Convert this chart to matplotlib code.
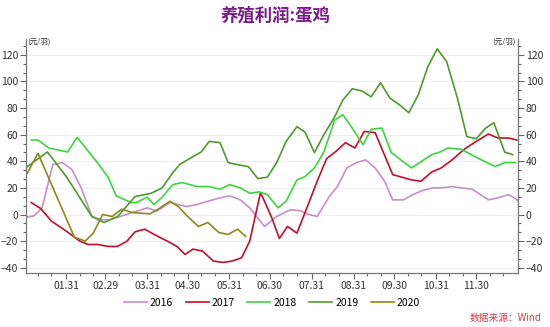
import matplotlib
matplotlib.use("Agg")
import matplotlib.pyplot as plt
import matplotlib.dates as mdates
from matplotlib.ticker import MultipleLocator
import pandas as pd

plt.rcParams['font.family'] = ['Noto Sans CJK SC', 'DejaVu Sans']

# 蛋鸡养殖利润（元/羽），日期统一放在 2016 年的日历轴上
d2016 = ["01-01", "01-07", "01-13", "01-21", "01-28", "02-04", "02-11", "02-19", "02-26",
         "03-03", "03-11", "03-20", "03-28", "03-31", "04-07", "04-17", "04-29", "05-07",
         "05-15", "05-24", "05-31", "06-08", "06-15", "06-26", "07-05", "07-15", "07-22",
         "07-29", "08-04", "08-13", "08-19", "08-26", "09-02", "09-09", "09-16", "09-23",
         "09-29", "10-07", "10-14", "10-21", "10-29", "11-04", "11-12", "11-19", "11-27",
         "12-03", "12-09", "12-16", "12-24", "12-31"]
v2016 = [-2, -1, 5, 37.5, 39, 34, 20, -1.5, -4,
         -4, -1.5, 1.5, 4, 5, 2.5, 9, 6, 7.5,
         10, 12.5, 14, 11, 5, -9, -1.5, 3.5, 3,
         0, -1.5, 13.5, 21, 35, 39, 41, 35, 25,
         11, 11, 15, 18, 20, 20, 21, 20, 19,
         15, 11, 12.5, 15, 10.5]

d2017 = ["01-05", "01-12", "01-20", "01-31", "02-10", "02-16", "02-23", "03-02", "03-09",
         "03-16", "03-22", "03-29", "04-08", "04-15", "04-22", "04-28", "05-04", "05-11",
         "05-19", "05-26", "06-02", "06-09", "06-15", "06-23", "07-01", "07-07", "07-13",
         "07-20", "07-27", "08-04", "08-11", "08-18", "08-25", "09-01", "09-08", "09-16",
         "09-29", "10-06", "10-13", "10-20", "10-28", "11-04", "11-12", "11-21", "11-30",
         "12-09", "12-16", "12-24", "12-30"]
v2017 = [9, 4.5, -5, -12.5, -20, -22.5, -22.5, -24, -24,
         -20, -13, -11, -16.5, -20, -24, -30, -26, -27.5,
         -35, -36, -35, -32.5, -20, 16.5, -1.5, -18, -9,
         -14, 4, 25, 42, 47.5, 54, 50, 62.5, 61.5,
         30, 28, 26, 25, 32, 35, 41, 49, 55,
         60.5, 57.5, 57.5, 56]

d2018 = ["01-05", "01-10", "01-18", "02-01", "02-08", "02-23", "03-02", "03-08", "03-19",
         "03-23", "03-31", "04-05", "04-11", "04-19", "04-26", "05-07", "05-16", "05-24",
         "05-31", "06-08", "06-15", "06-22", "06-28", "07-06", "07-12", "07-20", "07-26",
         "08-02", "08-09", "08-17", "08-23", "08-30", "09-07", "09-13", "09-21", "09-28",
         "10-13", "10-19", "10-28", "11-03", "11-09", "11-19", "11-30", "12-08", "12-14",
         "12-21", "12-29"]
v2018 = [56, 56, 50, 47, 58, 39, 28, 14, 9,
         9, 13, 7.5, 13, 22.5, 24, 21, 21, 19,
         22.5, 20, 16, 17, 15, 5, 10, 26, 28.5,
         35, 47, 71, 75, 65, 52.5, 64, 65, 46.5,
         35, 39, 45, 47, 50, 49, 43, 39, 36,
         39, 39]

d2019 = ["01-02", "01-17", "01-31", "02-19", "02-28", "03-09", "03-22", "04-03", "04-11",
         "04-19", "04-24", "05-03", "05-10", "05-16", "05-24", "05-30", "06-06", "06-14",
         "06-21", "06-28", "07-05", "07-12", "07-20", "07-26", "08-02", "08-09", "08-17",
         "08-23", "08-30", "09-06", "09-13", "09-20", "09-27", "10-04", "10-11", "10-18",
         "10-25", "11-01", "11-08", "11-16", "11-23", "11-30", "12-07", "12-13", "12-21",
         "12-27"]
v2019 = [36, 47, 28.5, -1.5, -6, -1.5, 13.5, 16, 20,
         31.5, 37.5, 43, 47, 55, 54, 39, 37.5, 36,
         27, 28, 39, 55, 66, 62, 46.5, 60, 73.5,
         86, 94.5, 93, 88.5, 99, 87.5, 82.5, 76.5, 90,
         111, 124.5, 115, 87.5, 58.5, 57, 65, 69, 47,
         45]

d2020 = ["01-02", "01-10", "02-06", "02-14", "02-20", "02-27", "03-05", "03-12", "03-20",
         "04-02", "04-08", "04-17", "04-23", "04-30", "05-08", "05-15", "05-23", "05-30",
         "06-06", "06-12"]
v2020 = [31, 46, -17, -20, -14, 0, -1.5, 4, 1.5,
         0.5, 4, 10, 6, -1.5, -9, -6, -13.5, -15,
         -11, -16.5]

series = [
    ("2016", d2016, v2016, "#c68fc6"),
    ("2017", d2017, v2017, "#c0102a"),
    ("2018", d2018, v2018, "#3cd63c"),
    ("2019", d2019, v2019, "#4f9a2c"),
    ("2020", d2020, v2020, "#8a8a1a"),
]

month_ends = ["01-31", "02-29", "03-31", "04-30", "05-31", "06-30",
              "07-31", "08-31", "09-30", "10-31", "11-30"]


def to_dates(md):
    return pd.to_datetime(["2016-" + s for s in md])


fig = plt.figure(figsize=(5.5, 3.27), dpi=100)
ax = fig.add_axes([0.047, 0.165, 0.895, 0.716])

for name, dates, vals, color in series:
    ax.plot(to_dates(dates), vals, color=color, lw=1.2, label=name)

ax.set_xlim(pd.Timestamp("2016-01-01"), pd.Timestamp("2016-12-31"))
ax.set_ylim(-44, 132)

# 横轴：月末主刻度，约每 10 天一个次刻度
ax.set_xticks(to_dates(month_ends))
ax.set_xticklabels([s.replace("-", ".") for s in month_ends])
ax.xaxis.set_minor_locator(mdates.DayLocator(bymonthday=[10, 20]))

ax.yaxis.set_major_locator(MultipleLocator(20))
ax.yaxis.set_minor_locator(MultipleLocator(20 / 3))
ax.tick_params(axis='y', which='both', left=True, right=True,
               labelleft=True, labelright=True, direction='out')
ax.tick_params(axis='both', which='major', length=4, width=0.8,
               color='#666666', labelsize=7.5, labelcolor='#333333', pad=1.5)
ax.tick_params(axis='both', which='minor', length=2.5, width=0.8, color='#666666')

ax.grid(axis='y', which='major', color='#eeeeee', lw=0.8)
ax.set_axisbelow(True)
for side in ['left', 'right', 'bottom']:
    ax.spines[side].set_color('#777777')
    ax.spines[side].set_linewidth(0.9)
ax.spines['top'].set_visible(False)

fig.text(0.05, 0.874, "(元/羽)", fontsize=5.5, color='#333333', ha='left', va='center')
fig.text(0.938, 0.874, "(元/羽)", fontsize=5.5, color='#333333', ha='right', va='center')

fig.text(0.5, 0.952, "养殖利润:蛋鸡", fontsize=12.5, fontweight='bold',
         color='#7b1a8c', ha='center', va='center')

ax.legend(loc='upper center', bbox_to_anchor=(0.5, -0.065), ncol=5, frameon=False,
          fontsize=7.5, handlelength=2.2, handletextpad=0.3, columnspacing=1.2)

fig.text(0.985, 0.028, "数据来源：Wind", fontsize=7, color='#d0404a',
         style='italic', ha='right', va='center')

fig.savefig("out.png", dpi=100, facecolor='white')
